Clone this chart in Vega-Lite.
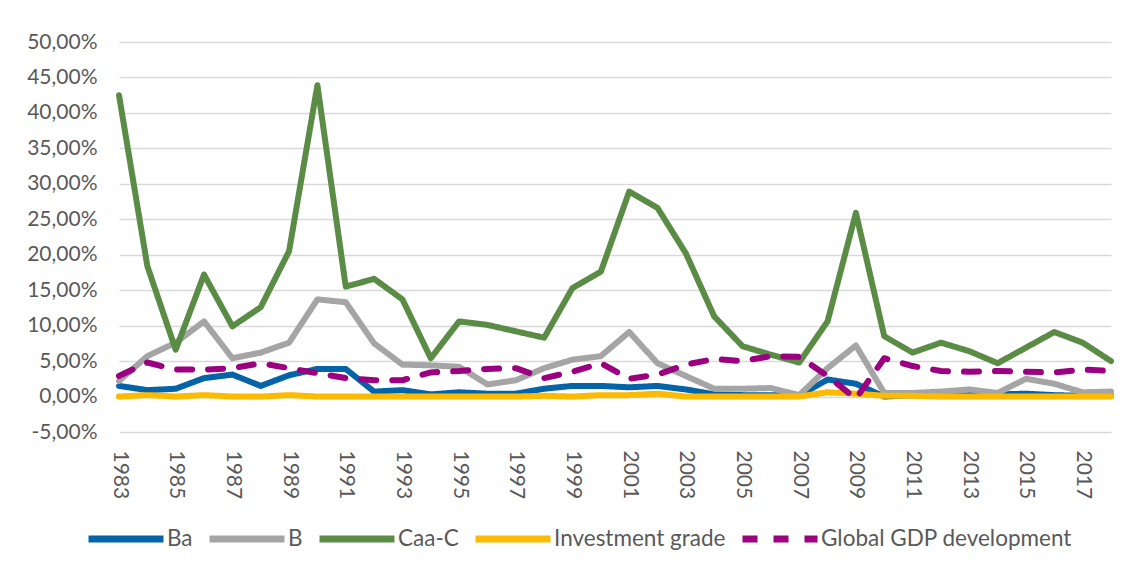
{
  "$schema": "https://vega.github.io/schema/vega-lite/v6.json",
  "width": 992,
  "height": 390,
  "autosize": {"type": "none"},
  "padding": {"left": 119, "top": 42, "right": 16, "bottom": 134},
  "background": "white",
  "config": {"view": {"stroke": null}, "font": "Lato"},
  "datasets": {
    "rates": [
      {"year":1983,"series":"Ba","value":0.015},{"year":1984,"series":"Ba","value":0.009},{"year":1985,"series":"Ba","value":0.011},{"year":1986,"series":"Ba","value":0.026},{"year":1987,"series":"Ba","value":0.031},{"year":1988,"series":"Ba","value":0.015},{"year":1989,"series":"Ba","value":0.030},{"year":1990,"series":"Ba","value":0.039},{"year":1991,"series":"Ba","value":0.039},{"year":1992,"series":"Ba","value":0.007},{"year":1993,"series":"Ba","value":0.009},{"year":1994,"series":"Ba","value":0.003},{"year":1995,"series":"Ba","value":0.006},{"year":1996,"series":"Ba","value":0.004},{"year":1997,"series":"Ba","value":0.004},{"year":1998,"series":"Ba","value":0.011},{"year":1999,"series":"Ba","value":0.015},{"year":2000,"series":"Ba","value":0.015},{"year":2001,"series":"Ba","value":0.013},{"year":2002,"series":"Ba","value":0.015},{"year":2003,"series":"Ba","value":0.010},{"year":2004,"series":"Ba","value":0.003},{"year":2005,"series":"Ba","value":0.002},{"year":2006,"series":"Ba","value":0.002},{"year":2007,"series":"Ba","value":0.001},{"year":2008,"series":"Ba","value":0.024},{"year":2009,"series":"Ba","value":0.018},{"year":2010,"series":"Ba","value":0.000},{"year":2011,"series":"Ba","value":0.002},{"year":2012,"series":"Ba","value":0.002},{"year":2013,"series":"Ba","value":0.002},{"year":2014,"series":"Ba","value":0.003},{"year":2015,"series":"Ba","value":0.004},{"year":2016,"series":"Ba","value":0.002},{"year":2017,"series":"Ba","value":0.001},{"year":2018,"series":"Ba","value":0.001},
      {"year":1983,"series":"B","value":0.022},{"year":1984,"series":"B","value":0.057},{"year":1985,"series":"B","value":0.076},{"year":1986,"series":"B","value":0.106},{"year":1987,"series":"B","value":0.054},{"year":1988,"series":"B","value":0.062},{"year":1989,"series":"B","value":0.076},{"year":1990,"series":"B","value":0.137},{"year":1991,"series":"B","value":0.133},{"year":1992,"series":"B","value":0.075},{"year":1993,"series":"B","value":0.045},{"year":1994,"series":"B","value":0.044},{"year":1995,"series":"B","value":0.042},{"year":1996,"series":"B","value":0.017},{"year":1997,"series":"B","value":0.023},{"year":1998,"series":"B","value":0.040},{"year":1999,"series":"B","value":0.052},{"year":2000,"series":"B","value":0.057},{"year":2001,"series":"B","value":0.091},{"year":2002,"series":"B","value":0.047},{"year":2003,"series":"B","value":0.029},{"year":2004,"series":"B","value":0.011},{"year":2005,"series":"B","value":0.011},{"year":2006,"series":"B","value":0.012},{"year":2007,"series":"B","value":0.002},{"year":2008,"series":"B","value":0.040},{"year":2009,"series":"B","value":0.072},{"year":2010,"series":"B","value":0.005},{"year":2011,"series":"B","value":0.005},{"year":2012,"series":"B","value":0.007},{"year":2013,"series":"B","value":0.010},{"year":2014,"series":"B","value":0.005},{"year":2015,"series":"B","value":0.025},{"year":2016,"series":"B","value":0.018},{"year":2017,"series":"B","value":0.006},{"year":2018,"series":"B","value":0.007},
      {"year":1983,"series":"Caa-C","value":0.425},{"year":1984,"series":"Caa-C","value":0.184},{"year":1985,"series":"Caa-C","value":0.066},{"year":1986,"series":"Caa-C","value":0.172},{"year":1987,"series":"Caa-C","value":0.099},{"year":1988,"series":"Caa-C","value":0.126},{"year":1989,"series":"Caa-C","value":0.205},{"year":1990,"series":"Caa-C","value":0.439},{"year":1991,"series":"Caa-C","value":0.155},{"year":1992,"series":"Caa-C","value":0.166},{"year":1993,"series":"Caa-C","value":0.137},{"year":1994,"series":"Caa-C","value":0.054},{"year":1995,"series":"Caa-C","value":0.106},{"year":1996,"series":"Caa-C","value":0.101},{"year":1997,"series":"Caa-C","value":0.092},{"year":1998,"series":"Caa-C","value":0.083},{"year":1999,"series":"Caa-C","value":0.153},{"year":2000,"series":"Caa-C","value":0.176},{"year":2001,"series":"Caa-C","value":0.289},{"year":2002,"series":"Caa-C","value":0.266},{"year":2003,"series":"Caa-C","value":0.202},{"year":2004,"series":"Caa-C","value":0.113},{"year":2005,"series":"Caa-C","value":0.071},{"year":2006,"series":"Caa-C","value":0.059},{"year":2007,"series":"Caa-C","value":0.048},{"year":2008,"series":"Caa-C","value":0.106},{"year":2009,"series":"Caa-C","value":0.259},{"year":2010,"series":"Caa-C","value":0.085},{"year":2011,"series":"Caa-C","value":0.062},{"year":2012,"series":"Caa-C","value":0.076},{"year":2013,"series":"Caa-C","value":0.064},{"year":2014,"series":"Caa-C","value":0.047},{"year":2015,"series":"Caa-C","value":0.069},{"year":2016,"series":"Caa-C","value":0.091},{"year":2017,"series":"Caa-C","value":0.076},{"year":2018,"series":"Caa-C","value":0.050},
      {"year":1983,"series":"Investment grade","value":0.000},{"year":1984,"series":"Investment grade","value":0.002},{"year":1985,"series":"Investment grade","value":0.000},{"year":1986,"series":"Investment grade","value":0.002},{"year":1987,"series":"Investment grade","value":0.000},{"year":1988,"series":"Investment grade","value":0.000},{"year":1989,"series":"Investment grade","value":0.002},{"year":1990,"series":"Investment grade","value":0.000},{"year":1991,"series":"Investment grade","value":0.000},{"year":1992,"series":"Investment grade","value":0.000},{"year":1993,"series":"Investment grade","value":0.000},{"year":1994,"series":"Investment grade","value":0.000},{"year":1995,"series":"Investment grade","value":0.000},{"year":1996,"series":"Investment grade","value":0.000},{"year":1997,"series":"Investment grade","value":0.000},{"year":1998,"series":"Investment grade","value":0.001},{"year":1999,"series":"Investment grade","value":0.000},{"year":2000,"series":"Investment grade","value":0.002},{"year":2001,"series":"Investment grade","value":0.002},{"year":2002,"series":"Investment grade","value":0.004},{"year":2003,"series":"Investment grade","value":0.000},{"year":2004,"series":"Investment grade","value":0.000},{"year":2005,"series":"Investment grade","value":0.000},{"year":2006,"series":"Investment grade","value":0.000},{"year":2007,"series":"Investment grade","value":0.000},{"year":2008,"series":"Investment grade","value":0.006},{"year":2009,"series":"Investment grade","value":0.004},{"year":2010,"series":"Investment grade","value":0.001},{"year":2011,"series":"Investment grade","value":0.001},{"year":2012,"series":"Investment grade","value":0.000},{"year":2013,"series":"Investment grade","value":0.000},{"year":2014,"series":"Investment grade","value":0.000},{"year":2015,"series":"Investment grade","value":0.000},{"year":2016,"series":"Investment grade","value":0.000},{"year":2017,"series":"Investment grade","value":0.000},{"year":2018,"series":"Investment grade","value":0.000},
      {"year":1983,"series":"Global GDP development","value":0.029},{"year":1984,"series":"Global GDP development","value":0.048},{"year":1985,"series":"Global GDP development","value":0.038},{"year":1986,"series":"Global GDP development","value":0.038},{"year":1987,"series":"Global GDP development","value":0.040},{"year":1988,"series":"Global GDP development","value":0.047},{"year":1989,"series":"Global GDP development","value":0.040},{"year":1990,"series":"Global GDP development","value":0.033},{"year":1991,"series":"Global GDP development","value":0.026},{"year":1992,"series":"Global GDP development","value":0.023},{"year":1993,"series":"Global GDP development","value":0.023},{"year":1994,"series":"Global GDP development","value":0.034},{"year":1995,"series":"Global GDP development","value":0.036},{"year":1996,"series":"Global GDP development","value":0.039},{"year":1997,"series":"Global GDP development","value":0.040},{"year":1998,"series":"Global GDP development","value":0.026},{"year":1999,"series":"Global GDP development","value":0.035},{"year":2000,"series":"Global GDP development","value":0.047},{"year":2001,"series":"Global GDP development","value":0.025},{"year":2002,"series":"Global GDP development","value":0.031},{"year":2003,"series":"Global GDP development","value":0.045},{"year":2004,"series":"Global GDP development","value":0.053},{"year":2005,"series":"Global GDP development","value":0.050},{"year":2006,"series":"Global GDP development","value":0.057},{"year":2007,"series":"Global GDP development","value":0.056},{"year":2008,"series":"Global GDP development","value":0.029},{"year":2009,"series":"Global GDP development","value":-0.003},{"year":2010,"series":"Global GDP development","value":0.054},{"year":2011,"series":"Global GDP development","value":0.043},{"year":2012,"series":"Global GDP development","value":0.036},{"year":2013,"series":"Global GDP development","value":0.035},{"year":2014,"series":"Global GDP development","value":0.036},{"year":2015,"series":"Global GDP development","value":0.035},{"year":2016,"series":"Global GDP development","value":0.034},{"year":2017,"series":"Global GDP development","value":0.038},{"year":2018,"series":"Global GDP development","value":0.036}
    ]
  },
  "data": {"name": "rates"},
  "mark": {"type": "line", "strokeWidth": 6, "strokeCap": "round", "strokeJoin": "round"},
  "encoding": {
    "x": {
      "field": "year", "type": "quantitative",
      "scale": {"domain": [1983, 2018], "nice": false, "zero": false},
      "axis": {"values": [1983,1985,1987,1989,1991,1993,1995,1997,1999,2001,2003,2005,2007,2009,2011,2013,2015,2017], "format": "d", "labelAngle": 90, "labelFontSize": 21, "labelColor": "#595959", "labelPadding": 18, "ticks": false, "domain": false, "grid": false, "title": null, "labelFlush": false, "labelOverlap": false}
    },
    "y": {
      "field": "value", "type": "quantitative",
      "scale": {"domain": [-0.05, 0.5], "nice": false, "zero": false},
      "axis": {"values": [-0.05,0,0.05,0.1,0.15,0.2,0.25,0.3,0.35,0.4,0.45,0.5], "labelExpr": "replace(replace(format(datum.value, '.2%'), '.', ','), '\u2212', '-')", "labelFontSize": 21, "labelColor": "#595959", "labelPadding": 22, "ticks": false, "domain": false, "gridColor": "#d9d9d9", "gridWidth": 1.3, "title": null, "labelOverlap": false}
    },
    "color": {
      "field": "series", "type": "nominal",
      "scale": {"domain": ["Ba","B","Caa-C","Investment grade","Global GDP development"], "range": ["#0563a8","#a5a5a5","#5b8c46","#fcba03","#9b0080"]},
      "legend": {"orient": "none", "legendX": -34, "legendY": 456, "direction": "horizontal", "title": null, "symbolType": "stroke", "symbolSize": 5625, "symbolStrokeWidth": 7, "labelFontSize": 22.5, "labelColor": "#595959", "labelOffset": 0, "columnPadding": 2, "labelLimit": 400}
    },
    "strokeDash": {
      "field": "series", "type": "nominal",
      "scale": {"domain": ["Ba","B","Caa-C","Investment grade","Global GDP development"], "range": [[1,0],[1,0],[1,0],[1,0],[15,16]]},
      "legend": {"orient": "none", "legendX": -34, "legendY": 456, "direction": "horizontal", "title": null, "symbolType": "stroke", "symbolSize": 5625, "symbolStrokeWidth": 7, "labelFontSize": 22.5, "labelColor": "#595959", "labelOffset": 0, "columnPadding": 2, "labelLimit": 400}
    }
  }
}
